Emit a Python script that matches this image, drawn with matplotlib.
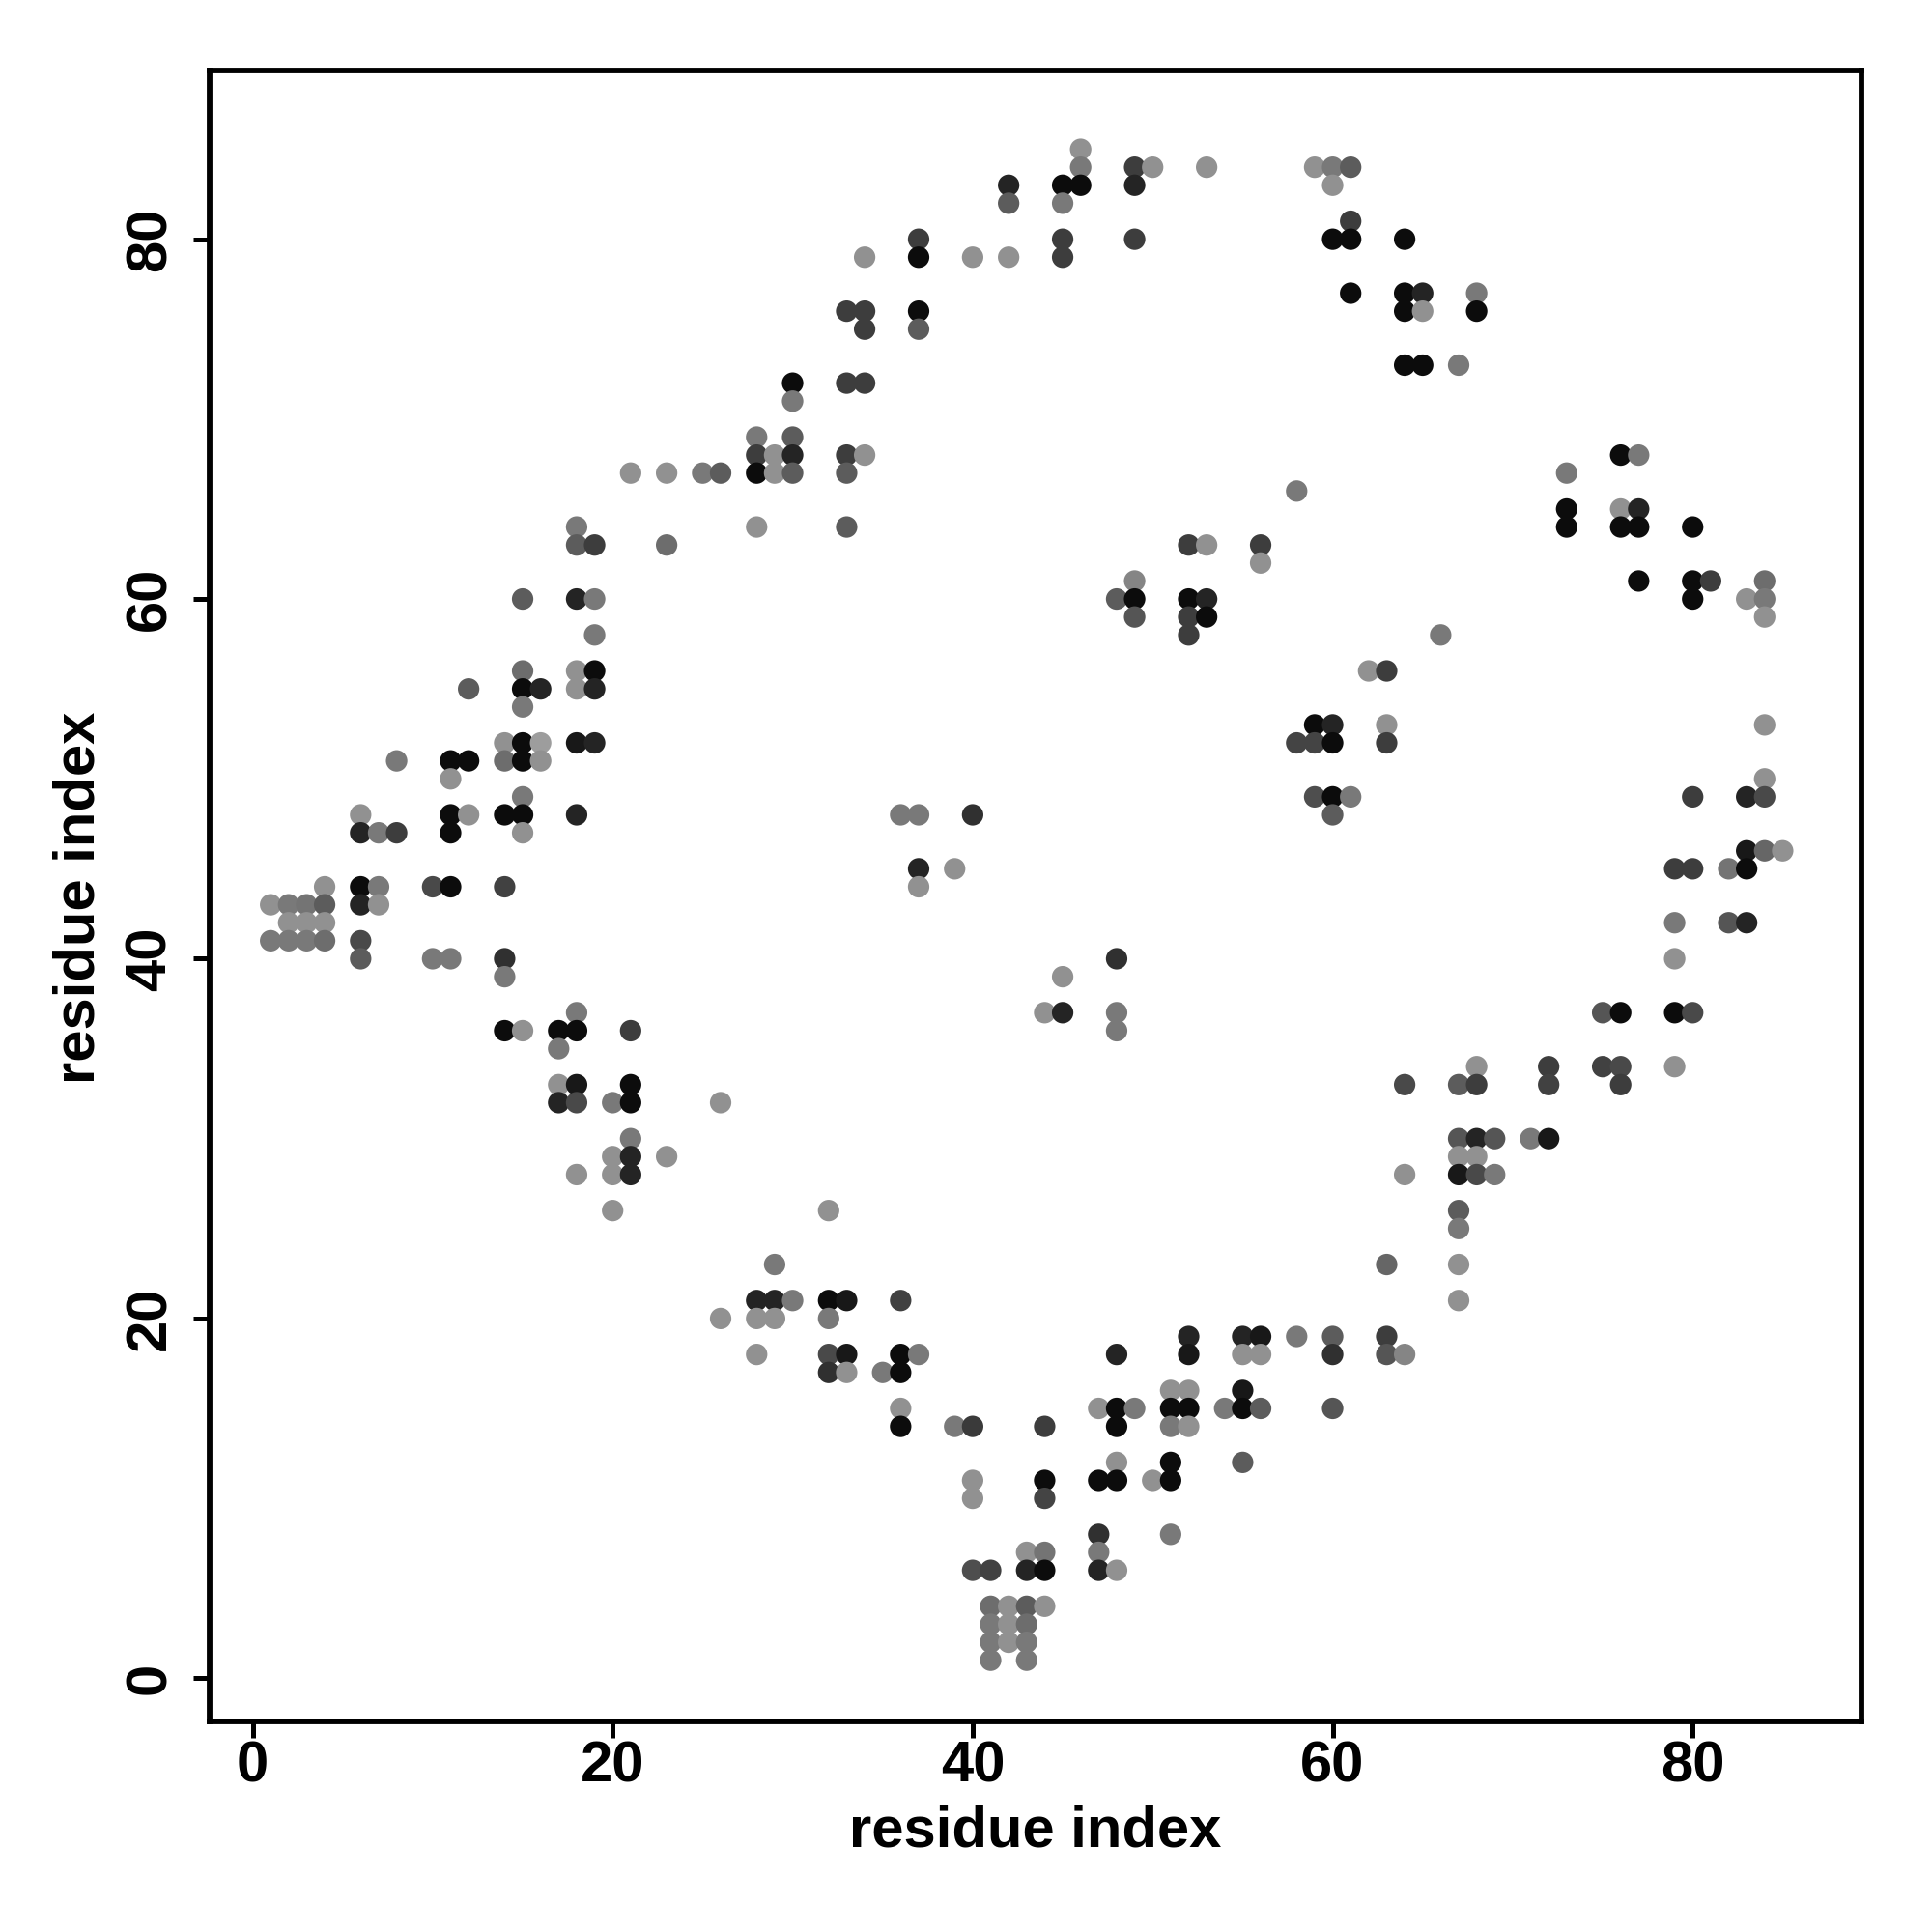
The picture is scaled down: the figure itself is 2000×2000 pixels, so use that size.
import matplotlib
matplotlib.use("Agg")
import matplotlib.pyplot as plt

plt.rcParams['font.family'] = ['Liberation Sans', 'DejaVu Sans']
plt.rcParams['font.weight'] = 'bold'

# one entry per row of the map: residue j, the residues i in contact with it,
# and a contact score for each (darker dot = higher score)
contact_j = [85, 84, 83, 82, 81, 80, 79, 77, 76, 75, 73, 72, 71, 69, 68, 67, 66, 65, 64,
             63, 62, 61, 60, 59, 58, 56, 55, 54, 53, 52, 51, 50, 49, 48, 47, 46, 45, 44,
             43, 42, 41, 40, 39, 37, 36, 35, 34, 33, 32, 30, 29, 28, 26, 25, 23, 21, 20,
             19, 18, 17, 16, 15, 14, 12, 11, 10, 8, 7, 6, 4, 3, 2, 1]

contact_i = [
    [46],
    [46, 49, 50, 53, 59, 60, 61],
    [42, 45, 46, 49, 60],
    [42, 45],
    [61],
    [37, 45, 49, 60, 61, 64],
    [34, 37, 40, 42, 45],
    [61, 64, 65, 68],
    [33, 34, 37, 64, 65, 68],
    [34, 37],
    [64, 65, 67],
    [30, 33, 34],
    [30],
    [28, 30],
    [28, 29, 30, 33, 34, 76, 77],
    [21, 23, 25, 26, 28, 29, 30, 33, 73],
    [58],
    [73, 76, 77],
    [18, 28, 33, 73, 76, 77, 80],
    [18, 19, 23, 52, 53, 56],
    [56],
    [49, 77, 80, 81, 84],
    [15, 18, 19, 48, 49, 52, 53, 80, 83, 84],
    [49, 52, 53, 84],
    [19, 52, 66],
    [15, 18, 19, 62, 63],
    [12, 15, 16, 18, 19],
    [15],
    [59, 60, 63, 84],
    [14, 15, 16, 18, 19, 58, 59, 60, 63],
    [8, 11, 12, 14, 15, 16],
    [11, 84],
    [15, 59, 60, 61, 80, 83, 84],
    [6, 11, 12, 14, 15, 18, 36, 37, 40, 60],
    [6, 7, 8, 11, 15],
    [83, 84, 85],
    [37, 39, 79, 80, 82, 83],
    [4, 6, 7, 10, 11, 14, 37],
    [1, 2, 3, 4, 6, 7],
    [2, 3, 4, 79, 82, 83],
    [1, 2, 3, 4, 6],
    [6, 10, 11, 14, 48, 79],
    [14, 45],
    [18, 44, 45, 48, 75, 76, 79, 80],
    [14, 15, 17, 18, 21, 48],
    [17],
    [68, 72, 75, 76, 79],
    [17, 18, 21, 64, 67, 68, 72, 76],
    [17, 18, 20, 21, 26],
    [21, 67, 68, 69, 71, 72],
    [20, 21, 23, 67, 68],
    [18, 20, 21, 64, 67, 68, 69],
    [20, 32, 67],
    [67],
    [29, 63, 67],
    [28, 29, 30, 32, 33, 36, 67],
    [26, 28, 29, 32],
    [52, 55, 56, 58, 60, 63],
    [28, 32, 33, 36, 37, 48, 52, 55, 56, 60, 63, 64],
    [32, 33, 35, 36],
    [51, 52, 55],
    [36, 47, 48, 49, 51, 52, 54, 55, 56, 60],
    [36, 39, 40, 44, 48, 51, 52],
    [48, 51, 55],
    [40, 44, 47, 48, 50, 51],
    [40, 44],
    [47, 51],
    [43, 44, 47],
    [40, 41, 43, 44, 47, 48],
    [41, 42, 43, 44],
    [41, 42, 43],
    [41, 42, 43],
    [41, 43],
]

contact_p = [
    [.40],
    [.50, .75, .40, .40, .40, .50, .62],
    [.85, .95, .95, .85, .40],
    [.62, .50],
    [.75],
    [.75, .75, .75, .95, .95, .95],
    [.40, .95, .40, .40, .75],
    [.95, .95, .85, .50],
    [.75, .75, .95, .95, .40, .95],
    [.75, .62],
    [.95, .95, .50],
    [.95, .75, .75],
    [.50],
    [.50, .62],
    [.75, .40, .85, .75, .40, .95, .50],
    [.40, .40, .50, .62, .95, .40, .62, .62, .50],
    [.50],
    [.95, .40, .85],
    [.50, .40, .62, .95, .95, .95, .95],
    [.62, .75, .55, .75, .40, .75],
    [.40],
    [.45, .95, .95, .75, .55],
    [.62, .85, .50, .62, .95, .95, .85, .95, .40, .50],
    [.65, .75, .95, .40],
    [.50, .75, .50],
    [.55, .40, .95, .40, .75],
    [.62, .95, .85, .40, .85],
    [.50],
    [.95, .85, .40, .40],
    [.40, .95, .35, .90, .85, .72, .72, .95, .75],
    [.50, .95, .95, .55, .95, .40],
    [.40, .40],
    [.50, .68, .95, .50, .75, .85, .70],
    [.40, .95, .40, .95, .95, .85, .50, .50, .80, .62],
    [.85, .50, .75, .95, .40],
    [.90, .58, .40],
    [.85, .40, .75, .75, .52, .95],
    [.40, .95, .50, .70, .95, .73, .40],
    [.40, .50, .52, .62, .85, .40],
    [.40, .40, .40, .50, .65, .85],
    [.50, .50, .50, .55, .70],
    [.62, .50, .50, .80, .80, .40],
    [.50, .40],
    [.50, .40, .85, .50, .65, .95, .95, .70],
    [.95, .40, .95, .95, .75, .50],
    [.50],
    [.40, .75, .73, .70, .40],
    [.40, .90, .95, .70, .62, .75, .73, .75],
    [.85, .70, .50, .95, .40],
    [.50, .65, .85, .65, .50, .90],
    [.40, .85, .40, .40, .40],
    [.40, .40, .85, .40, .90, .70, .50],
    [.40, .40, .62],
    [.50],
    [.50, .58, .40],
    [.85, .85, .50, .95, .90, .73, .40],
    [.40, .40, .40, .50],
    [.85, .85, .90, .50, .62, .75],
    [.40, .70, .90, .95, .50, .85, .90, .40, .40, .80, .65, .45],
    [.80, .40, .50, .95],
    [.40, .40, .90],
    [.40, .40, .95, .50, .95, .95, .50, .95, .62, .65],
    [.95, .50, .76, .75, .95, .50, .40],
    [.40, .95, .62],
    [.40, .95, .95, .95, .40, .95],
    [.40, .72],
    [.80, .50],
    [.40, .52, .50],
    [.68, .73, .85, .95, .85, .40],
    [.55, .40, .62, .40],
    [.50, .40, .55],
    [.50, .40, .50],
    [.50, .50],
]

ticks = [0, 20, 40, 60, 80]

xs, ys, cols = [], [], []
for j, row_i, row_p in zip(contact_j, contact_i, contact_p):
    for i, p in zip(row_i, row_p):
        xs.append(i)
        ys.append(j)
        g = 0.95 * (1 - p)
        cols.append((g, g, g))

fig = plt.figure(figsize=(10, 10), dpi=200)
ax = fig.add_axes([0.1084, 0.109, 0.8553, 0.8547])
ax.scatter(xs, ys, s=64, c=cols, edgecolors='none', zorder=3)

ax.set_xlim(-2.4, 89.4)
ax.set_ylim(-2.4, 89.4)
ax.set_xticks(ticks)
ax.set_yticks(ticks)
ax.set_xticklabels([str(t) for t in ticks], fontsize=21.5, fontweight='bold')
ax.set_yticklabels([str(t) for t in ticks], fontsize=21.5, fontweight='bold',
                   rotation=90, va='center')
ax.tick_params(axis='both', length=6, width=1.8, color='black')
ax.tick_params(axis='x', pad=1)
ax.tick_params(axis='y', pad=6)
for sp in ax.spines.values():
    sp.set_linewidth(2.1)

fig.text(0.536, 0.0445, "residue index", fontsize=21.5, fontweight='bold',
         ha='center', va='baseline')
fig.text(0.049, 0.5355, "residue index", fontsize=21.5, fontweight='bold',
         ha='center', va='baseline', rotation=90, rotation_mode='anchor')

fig.savefig("out.png", dpi=200, facecolor='white')
